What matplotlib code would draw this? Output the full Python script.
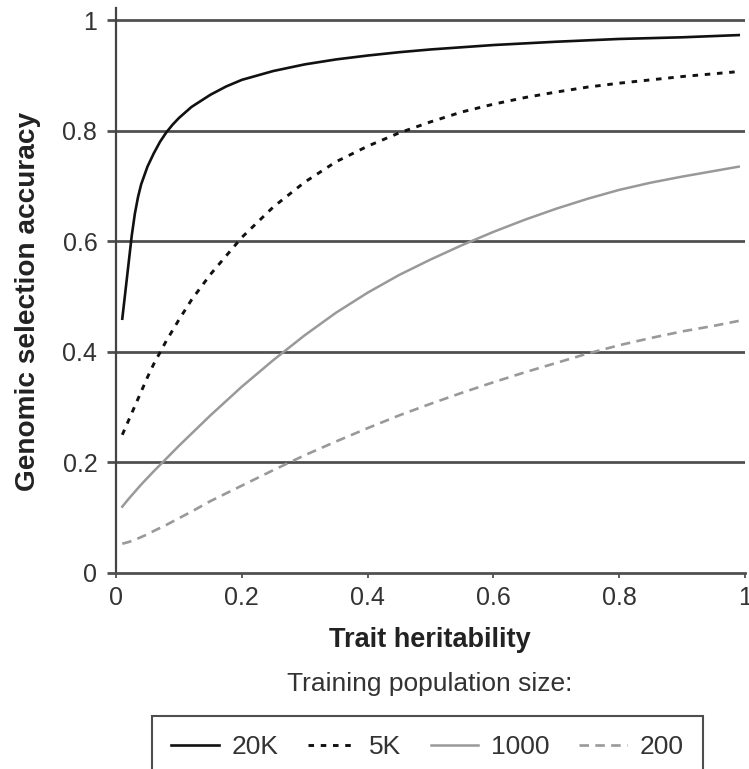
import numpy as np
import matplotlib.pyplot as plt

plt.rcParams['font.family'] = ['Liberation Sans', 'DejaVu Sans']

# trait heritability (x) read for the 20K curve, which is steep near zero
h_20k = [0.01, 0.015, 0.02, 0.025, 0.03, 0.035, 0.04, 0.05, 0.06, 0.07, 0.08, 0.09, 0.1,
         0.12, 0.15, 0.175, 0.2, 0.25, 0.3, 0.35, 0.4, 0.45, 0.5, 0.6, 0.7, 0.8, 0.9, 0.99]
acc_20k = [0.46, 0.51, 0.56, 0.61, 0.65, 0.68, 0.703, 0.735, 0.759, 0.78, 0.797, 0.811, 0.823,
           0.843, 0.865, 0.88, 0.892, 0.908, 0.92, 0.929, 0.936, 0.942, 0.947, 0.955, 0.961,
           0.966, 0.969, 0.973]

# trait heritability (x) read for the other curves
h = [0.01, 0.02, 0.03, 0.04, 0.05, 0.06, 0.08, 0.1, 0.12, 0.15, 0.2, 0.25, 0.3, 0.35, 0.4,
     0.45, 0.5, 0.55, 0.6, 0.65, 0.7, 0.75, 0.8, 0.85, 0.9, 0.95, 0.99]
acc_5k = [0.25, 0.276, 0.302, 0.328, 0.354, 0.378, 0.42, 0.458, 0.494, 0.54, 0.607, 0.662,
          0.707, 0.744, 0.772, 0.796, 0.816, 0.834, 0.848, 0.86, 0.87, 0.879, 0.886, 0.892,
          0.898, 0.903, 0.907]
acc_1000 = [0.12, 0.134, 0.147, 0.16, 0.172, 0.184, 0.207, 0.23, 0.252, 0.285, 0.337, 0.385,
            0.43, 0.471, 0.507, 0.539, 0.567, 0.593, 0.617, 0.639, 0.659, 0.677, 0.693, 0.706,
            0.717, 0.727, 0.735]
acc_200 = [0.053, 0.056, 0.06, 0.065, 0.07, 0.076, 0.087, 0.099, 0.111, 0.13, 0.158, 0.186,
           0.213, 0.238, 0.262, 0.285, 0.306, 0.326, 0.345, 0.363, 0.38, 0.397, 0.412, 0.425,
           0.437, 0.447, 0.456]

sizes = ['20K', '5K', '1000', '200']
x_ticks = [0, 0.2, 0.4, 0.6, 0.8, 1]
x_ticklabels = ['0', '0.2', '0.4', '0.6', '0.8', '1']
y_ticks = [0, 0.2, 0.4, 0.6, 0.8, 1]
y_ticklabels = ['0', '0.2', '0.4', '0.6', '0.8', '1']

W, H = 749, 769
fig = plt.figure(figsize=(W / 100, H / 100), dpi=100)
ax = fig.add_axes([116 / W, 1 - 573 / H, (745 - 116) / W, (573 - 8) / H])

grid_c = '#505050'
ax.set_xlim(0, 1)
ax.set_ylim(0, 1.022)
ax.set_yticks(y_ticks)
ax.set_yticklabels(y_ticklabels)
ax.set_xticks(x_ticks)
ax.set_xticklabels(x_ticklabels)
for yv in y_ticks[1:]:
    ax.axhline(yv, color=grid_c, lw=2.0, zorder=1)

ax.plot(h_20k, acc_20k, color='#111111', lw=1.9, label=sizes[0], zorder=3)
ax.plot(h, acc_5k, color='#111111', lw=2.1, ls=(0, (1.9, 2.3)), label=sizes[1], zorder=3)
ax.plot(h, acc_1000, color='#999999', lw=1.8, label=sizes[2], zorder=3)
ax.plot(h, acc_200, color='#999999', lw=1.9, ls=(0, (3.6, 2.4)), label=sizes[3], zorder=3)

for s in ['top', 'right']:
    ax.spines[s].set_visible(False)
ax.spines['left'].set_color('#444444')
ax.spines['left'].set_linewidth(1.6)
ax.spines['bottom'].set_color(grid_c)
ax.spines['bottom'].set_linewidth(2.0)
ax.tick_params(axis='y', direction='out', length=6.5, width=2.0, color=grid_c,
               labelsize=18, labelcolor='#333333', pad=7)
ax.tick_params(axis='x', direction='out', length=3.5, width=1.3, color=grid_c,
               labelsize=18, labelcolor='#333333', pad=6)

ax.set_ylabel('Genomic selection accuracy', fontsize=20.2, fontweight='bold', color='#222222')
ax.yaxis.set_label_coords((41 - 116) / 629, (573 - 301) / 565)
fig.text(430 / W, 1 - 640 / H, 'Trait heritability', fontsize=19.5, fontweight='bold',
         color='#222222', ha='center', va='center')
fig.text(430 / W, 1 - 684 / H, 'Training population size:', fontsize=19,
         color='#333333', ha='center', va='center')

handles, labels = ax.get_legend_handles_labels()
leg = fig.legend(handles, labels, ncol=4, loc='upper left',
                 bbox_to_anchor=(152 / W, 1 - 716 / H), borderaxespad=0,
                 fontsize=19, frameon=True, fancybox=False, borderpad=0.72,
                 handlelength=1.8, handletextpad=0.5, columnspacing=1.12)
leg.get_frame().set_edgecolor('#222222')
leg.get_frame().set_linewidth(1.5)
for t in leg.get_texts():
    t.set_color('#333333')

fig.savefig('out.png', dpi=100)
